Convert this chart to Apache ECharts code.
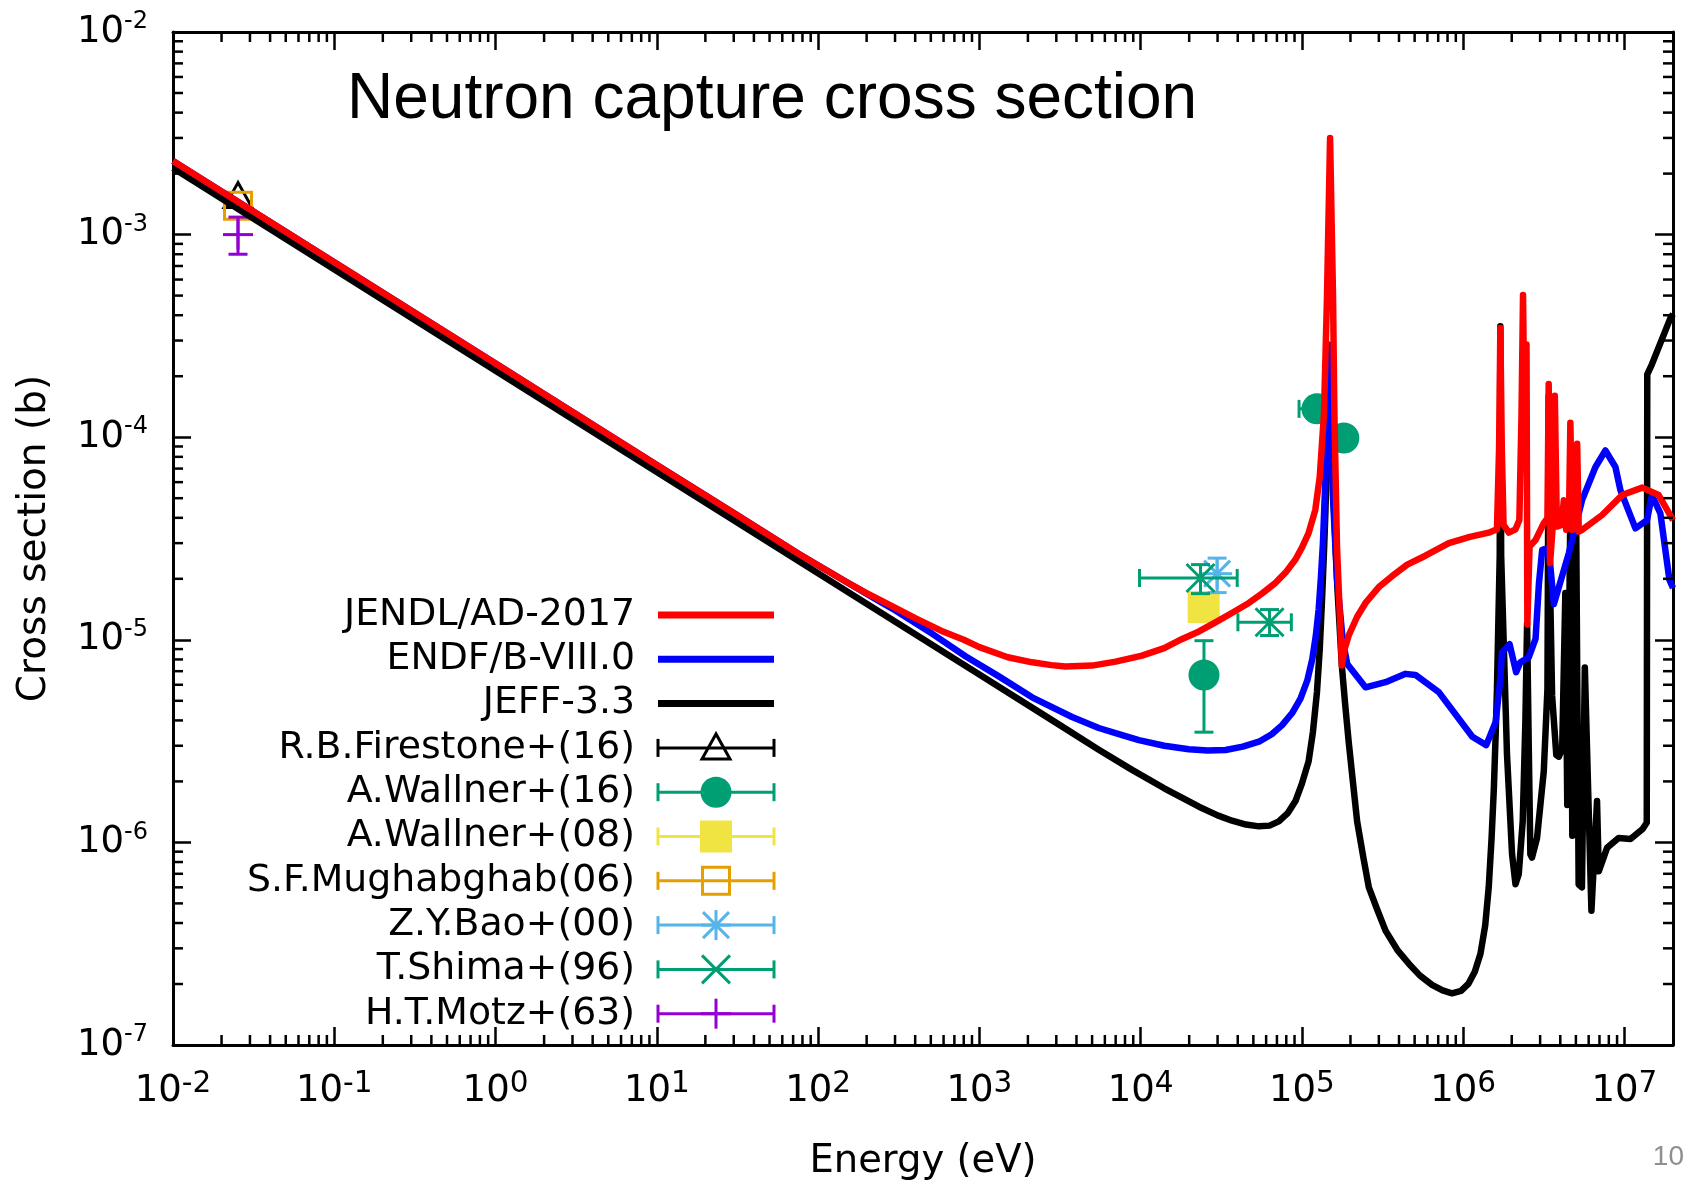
<!DOCTYPE html>
<html>
<head>
<meta charset="utf-8">
<title>Neutron capture cross section</title>
<script src="https://cdn.jsdelivr.net/npm/echarts@6/dist/echarts.min.js"></script>
<style>
  html, body { margin: 0; padding: 0; background: #ffffff; }
  #chart { width: 1690px; height: 1186px; }
</style>
</head>
<body>
<div id="chart"></div>
<script>
// ---------------------------------------------------------------
// Evaluated capture cross sections: [energy (eV), sigma (b)]
// ---------------------------------------------------------------
const jendlAD2017 = [
  [0.01, 2.31e-3], [0.1, 7.3e-4], [1, 2.31e-4], [10, 7.3e-5], [30, 4.22e-5],
  [76, 2.65e-5], [110, 2.23e-5], [150, 1.93e-5], [197, 1.71e-5], [250, 1.55e-5],
  [400, 1.28e-5], [600, 1.095e-5], [800, 1.0e-5], [1000, 9.2e-6], [1500, 8.2e-6],
  [2123, 7.74e-6], [2800, 7.5e-6], [3420, 7.39e-6], [5000, 7.46e-6], [7000, 7.8e-6],
  [1.02e4, 8.35e-6], [1.4e4, 9.1e-6], [1.81e4, 1.01e-5], [2.3e4, 1.1e-5], [2.91e4, 1.22e-5],
  [3.7e4, 1.36e-5], [4.69e4, 1.52e-5], [5.7e4, 1.7e-5], [6.86e4, 1.91e-5], [8.0e4, 2.17e-5],
  [9.12e4, 2.49e-5], [1.0e5, 2.85e-5], [1.10e5, 3.36e-5], [1.21e5, 4.37e-5], [1.29e5, 6.37e-5],
  [1.37e5, 1.30e-4], [1.43e5, 4.85e-4], [1.495e5, 3.0e-3], [1.56e5, 4.85e-4], [1.59e5, 1.31e-4],
  [1.65e5, 2.89e-5], [1.77e5, 7.46e-6], [1.84e5, 9.0e-6], [1.95e5, 1.05e-5], [2.2e5, 1.3e-5],
  [2.48e5, 1.52e-5], [3.0e5, 1.82e-5], [3.62e5, 2.06e-5], [4.5e5, 2.35e-5], [5.83e5, 2.6e-5],
  [8.15e5, 3.0e-5], [1.1e6, 3.22e-5], [1.44e6, 3.38e-5], [1.62e6, 3.51e-5], [1.67e6, 8.93e-5],
  [1.70e6, 3.46e-4], [1.735e6, 8.93e-5], [1.78e6, 3.69e-5], [1.92e6, 3.38e-5], [2.11e6, 3.51e-5],
  [2.23e6, 3.90e-5], [2.30e6, 1.30e-4], [2.35e6, 5.04e-4], [2.41e6, 8.93e-5], [2.47e6, 2.87e-4],
  [2.50e6, 1.19e-5], [2.58e6, 2.89e-5], [2.81e6, 3.11e-5], [3.16e6, 3.76e-5], [3.33e6, 3.98e-5],
  [3.39e6, 1.83e-4], [3.46e6, 2.39e-5], [3.59e6, 3.62e-5], [3.70e6, 1.60e-4], [3.81e6, 3.62e-5],
  [4.07e6, 3.69e-5], [4.21e6, 4.89e-5], [4.35e6, 3.49e-5], [4.52e6, 3.62e-5], [4.62e6, 1.18e-4],
  [4.74e6, 3.49e-5], [4.97e6, 3.55e-5], [5.09e6, 9.27e-5], [5.21e6, 3.42e-5], [5.46e6, 3.49e-5],
  [7.27e6, 4.13e-5], [9.67e6, 5.18e-5], [1.29e7, 5.64e-5], [1.63e7, 5.18e-5], [2.0e7, 3.9e-5]
];

const endfB8 = [
  [0.01, 2.31e-3], [1, 2.31e-4], [10, 7.3e-5], [30, 4.22e-5], [76, 2.65e-5],
  [110, 2.23e-5], [150, 1.93e-5], [197, 1.70e-5], [250, 1.52e-5], [300, 1.40e-5],
  [511, 1.07e-5], [820, 8.3e-6], [1321, 6.6e-6], [2123, 5.2e-6], [3758, 4.16e-6],
  [5500, 3.67e-6], [7500, 3.4e-6], [9750, 3.20e-6], [1.4e4, 3.0e-6], [1.99e4, 2.88e-6],
  [2.6e4, 2.84e-6], [3.36e4, 2.86e-6], [4.3e4, 2.97e-6], [5.41e4, 3.14e-6], [6.5e4, 3.42e-6],
  [7.54e4, 3.79e-6], [8.7e4, 4.35e-6], [9.80e4, 5.12e-6], [1.08e5, 6.3e-6], [1.16e5, 8.04e-6],
  [1.22e5, 1.05e-5], [1.27e5, 1.41e-5], [1.31e5, 2.0e-5], [1.35e5, 3.0e-5], [1.40e5, 6.37e-5],
  [1.44e5, 1.25e-4], [1.47e5, 2.86e-4], [1.51e5, 1.2e-4], [1.55e5, 5.5e-5], [1.65e5, 2.0e-5],
  [1.79e5, 1.0e-5], [1.91e5, 7.6e-6], [2.48e5, 5.83e-6], [3.30e5, 6.18e-6], [4.39e5, 6.79e-6],
  [5.06e5, 6.71e-6], [7.06e5, 5.52e-6], [1.14e6, 3.32e-6], [1.39e6, 3.02e-6], [1.59e6, 3.93e-6],
  [1.70e6, 6.41e-6], [1.74e6, 8.67e-6], [1.94e6, 9.52e-6], [2.13e6, 6.92e-6], [2.26e6, 7.75e-6],
  [2.55e6, 8.19e-6], [2.81e6, 1.01e-5], [2.95e6, 1.9e-5], [3.09e6, 2.78e-5], [3.39e6, 2.84e-5],
  [3.65e6, 1.50e-5], [4.52e6, 2.68e-5], [5.46e6, 4.89e-5], [6.61e6, 7.13e-5], [7.62e6, 8.60e-5],
  [8.79e6, 7.13e-5], [9.44e6, 5.48e-5], [1.17e7, 3.55e-5], [1.38e7, 3.90e-5], [1.48e7, 5.18e-5],
  [1.67e7, 4.21e-5], [1.90e7, 1.98e-5], [2.0e7, 1.8e-5]
];

const jeff33 = [
  [0.01, 2.13e-3], [1, 2.13e-4], [100, 2.13e-5], [1000, 6.74e-6], [3000, 3.89e-6],
  [5500, 2.87e-6], [8850, 2.28e-6], [1.4e4, 1.85e-6], [2.3e4, 1.50e-6], [3.0e4, 1.36e-6],
  [3.69e4, 1.28e-6], [4.5e4, 1.225e-6], [5.41e4, 1.20e-6], [6.3e4, 1.21e-6], [7.19e4, 1.27e-6],
  [8.2e4, 1.40e-6], [9.12e4, 1.60e-6], [1.0e5, 1.95e-6], [1.10e5, 2.51e-6], [1.17e5, 3.5e-6],
  [1.24e5, 5.52e-6], [1.29e5, 9.0e-6], [1.33e5, 1.52e-5], [1.37e5, 2.7e-5], [1.40e5, 4.37e-5],
  [1.45e5, 1.3e-4], [1.48e5, 2.6e-4], [1.52e5, 1.3e-4], [1.58e5, 4.5e-5], [1.66e5, 1.8e-5],
  [1.77e5, 7.4e-6], [1.85e5, 4.9e-6], [1.95e5, 3.14e-6], [2.07e5, 2.0e-6], [2.20e5, 1.27e-6],
  [2.40e5, 8.5e-7], [2.60e5, 6.0e-7], [2.95e5, 4.6e-7], [3.30e5, 3.67e-7], [3.90e5, 2.95e-7],
  [4.60e5, 2.52e-7], [5.40e5, 2.2e-7], [6.41e5, 1.98e-7], [7.45e5, 1.86e-7], [8.53e5, 1.80e-7],
  [9.70e5, 1.85e-7], [1.08e6, 2.01e-7], [1.18e6, 2.3e-7], [1.28e6, 2.82e-7], [1.37e6, 3.9e-7],
  [1.44e6, 6.0e-7], [1.50e6, 1.05e-6], [1.55e6, 1.85e-6], [1.59e6, 3.4e-6], [1.62e6, 5.73e-6],
  [1.685e6, 2.6e-5], [1.70e6, 3.53e-4], [1.72e6, 2.6e-5], [1.87e6, 2.70e-6], [2.01e6, 8.73e-7],
  [2.11e6, 6.22e-7], [2.21e6, 6.97e-7], [2.34e6, 1.27e-6], [2.43e6, 3.93e-6], [2.49e6, 1.2e-5],
  [2.55e6, 3.0e-6], [2.61e6, 8.73e-7], [2.67e6, 8.41e-7], [2.87e6, 1.05e-6], [3.16e6, 2.24e-6],
  [3.33e6, 5.7e-6], [3.39e6, 1.6e-4], [3.44e6, 2.3e-5], [3.56e6, 5.3e-6], [3.78e6, 2.7e-6],
  [3.92e6, 2.65e-6], [4.11e6, 2.9e-6], [4.30e6, 1.7e-5], [4.42e6, 1.53e-6], [4.62e6, 4.5e-5],
  [4.75e6, 1.08e-6], [5.00e6, 6.0e-5], [5.20e6, 6.2e-7], [5.45e6, 6.0e-7], [5.68e6, 7.3e-6],
  [6.24e6, 4.6e-7], [6.76e6, 1.6e-6], [6.93e6, 7.2e-7], [7.80e6, 9.4e-7], [9.20e6, 1.05e-6],
  [1.09e7, 1.04e-6], [1.29e7, 1.16e-6], [1.375e7, 1.25e-6], [1.385e7, 2.04e-4], [1.48e7, 2.29e-4],
  [1.93e7, 3.88e-4], [2.0e7, 4.05e-4]
];

// ---------------------------------------------------------------
// Measurements: [E, sigma, E low, E high, sigma low, sigma high]
// (low == high means no error bar in that direction)
// ---------------------------------------------------------------
const firestone16 = [
  [0.0253, 1.54e-3, 0.0253, 0.0253, 1.54e-3, 1.54e-3]
];
const wallner16 = [
  [2.47e4, 6.7e-6, 2.47e4, 2.47e4, 3.5e-6, 9.9e-6],
  [1.24e5, 1.38e-4, 9.6e4, 1.52e5, 1.38e-4, 1.38e-4],
  [1.82e5, 9.9e-5, 1.82e5, 1.82e5, 9.9e-5, 9.9e-5]
];
const wallner08 = [
  [2.46e4, 1.45e-5, 2.46e4, 2.46e4, 1.45e-5, 1.45e-5]
];
const mughabghab06 = [
  [0.0253, 1.39e-3, 0.0253, 0.0253, 1.39e-3, 1.39e-3]
];
const bao00 = [
  [2.98e4, 2.12e-5, 2.98e4, 2.98e4, 1.71e-5, 2.53e-5]
];
const shima96 = [
  [2.35e4, 2.02e-5, 9.84e3, 3.97e4, 1.69e-5, 2.35e-5],
  [6.3e4, 1.22e-5, 4.01e4, 8.6e4, 1.05e-5, 1.41e-5]
];
const motz63 = [
  [0.0253, 1.0e-3, 0.0253, 0.0253, 8.0e-4, 1.22e-3]
];

// Axis ranges and decade tick labels
const xRange = [1e-2, 2e7];
const yRange = [1e-7, 1e-2];
const xDecades = [-2, -1, 0, 1, 2, 3, 4, 5, 6, 7];
const yDecades = [-7, -6, -5, -4, -3, -2];
const minorSteps = [2, 3, 4, 5, 6, 7, 8, 9];

// ---------------------------------------------------------------
const FONT = "'DejaVu Sans'";

const evaluations = [
  { name: 'JENDL/AD-2017', data: jendlAD2017, color: '#ff0000', z: 5 },
  { name: 'ENDF/B-VIII.0', data: endfB8, color: '#0000ff', z: 4 },
  { name: 'JEFF-3.3', data: jeff33, color: '#000000', z: 3 }
];

const measurementSets = [
  { name: 'R.B.Firestone+(16)', data: firestone16, color: '#000000', marker: 'triangle' },
  { name: 'A.Wallner+(16)', data: wallner16, color: '#009e73', marker: 'circle' },
  { name: 'A.Wallner+(08)', data: wallner08, color: '#f0e442', marker: 'square' },
  { name: 'S.F.Mughabghab(06)', data: mughabghab06, color: '#e69f00', marker: 'openSquare' },
  { name: 'Z.Y.Bao+(00)', data: bao00, color: '#56b4e9', marker: 'asterisk' },
  { name: 'T.Shima+(96)', data: shima96, color: '#009e73', marker: 'cross' },
  { name: 'H.T.Motz+(63)', data: motz63, color: '#9400d3', marker: 'plus' }
];

function decadeLabel(value, decades) {
  const e = Math.log10(value);
  const n = Math.round(e);
  if (Math.abs(e - n) > 1e-6 || decades.indexOf(n) < 0) return '';
  return '{b|10}{s|' + n + '}';
}

function minorValues(decades, upper) {
  const out = [];
  decades.forEach(function (d) {
    minorSteps.forEach(function (m) {
      const v = m * Math.pow(10, d);
      if (v < upper) out.push(v);
    });
  });
  return out;
}
const xMinor = minorValues(xDecades, xRange[1]);
const yMinor = minorValues(yDecades, yRange[1]);

function seg(x1, y1, x2, y2, color, w) {
  return { type: 'line', shape: { x1: x1, y1: y1, x2: x2, y2: y2 },
           style: { stroke: color, lineWidth: w || 3, fill: 'none' } };
}

// Point symbols in the gnuplot style
function markerShapes(kind, x, y, color) {
  switch (kind) {
    case 'triangle':
      return [{ type: 'polygon',
        shape: { points: [[x, y - 14], [x - 14, y + 11], [x + 14, y + 11]] },
        style: { fill: 'none', stroke: color, lineWidth: 3 } }];
    case 'circle':
      return [{ type: 'circle', shape: { cx: x, cy: y, r: 15.5 }, style: { fill: color } }];
    case 'square':
      return [{ type: 'rect', shape: { x: x - 16, y: y - 16, width: 32, height: 32 }, style: { fill: color } }];
    case 'openSquare':
      return [{ type: 'rect', shape: { x: x - 13.5, y: y - 13.5, width: 27, height: 27 },
        style: { fill: 'none', stroke: color, lineWidth: 3 } }];
    case 'asterisk':
      return [seg(x - 15, y, x + 15, y, color), seg(x, y - 15, x, y + 15, color),
              seg(x - 13, y - 13, x + 13, y + 13, color), seg(x - 13, y + 13, x + 13, y - 13, color)];
    case 'cross':
      return [seg(x - 14, y - 14, x + 14, y + 14, color), seg(x - 14, y + 14, x + 14, y - 14, color)];
    case 'plus':
      return [seg(x - 15, y, x + 15, y, color), seg(x, y - 15, x, y + 15, color)];
  }
  return [];
}

function measurementRenderer(color, marker) {
  return function (params, api) {
    const E = api.value(0), s = api.value(1);
    const eLo = api.value(2), eHi = api.value(3);
    const sLo = api.value(4), sHi = api.value(5);
    const c = api.coord([E, s]);
    const kids = [];
    if (eHi > eLo) {
      const a = api.coord([eLo, s]), b = api.coord([eHi, s]);
      kids.push(seg(a[0], c[1], b[0], c[1], color));
      kids.push(seg(a[0], c[1] - 9, a[0], c[1] + 9, color));
      kids.push(seg(b[0], c[1] - 9, b[0], c[1] + 9, color));
    }
    if (sHi > sLo) {
      const a = api.coord([E, sLo]), b = api.coord([E, sHi]);
      kids.push(seg(c[0], a[1], c[0], b[1], color));
      kids.push(seg(c[0] - 9.5, a[1], c[0] + 9.5, a[1], color));
      kids.push(seg(c[0] - 9.5, b[1], c[0] + 9.5, b[1], color));
    }
    markerShapes(marker, c[0], c[1], color).forEach(function (k) { kids.push(k); });
    return { type: 'group', children: kids };
  };
}

function xAxisDef(position, labelled) {
  const ax = {
    type: 'log', logBase: 10, min: xRange[0], max: xRange[1],
    interval: 1, splitNumber: 10, position: position, gridIndex: 0,
    axisLine: { show: true, onZero: false, lineStyle: { color: '#000', width: 3 } },
    axisTick: { show: true, inside: true, length: 18, lineStyle: { color: '#000', width: 2.5 } },
    splitLine: { show: false },
    minorTick: { show: false },
    axisLabel: { show: false }
  };
  if (labelled) {
    ax.axisLabel = {
      show: true, margin: 24,
      formatter: function (v) { return decadeLabel(v, xDecades); },
      rich: {
        b: { fontFamily: FONT, fontSize: 37, lineHeight: 44, color: '#000' },
        s: { fontFamily: FONT, fontSize: 29.5, lineHeight: 22, verticalAlign: 'top', color: '#000' }
      }
    };
    ax.name = 'Energy (eV)';
    ax.nameLocation = 'middle';
    ax.nameGap = 97;
    ax.nameTextStyle = { fontFamily: FONT, fontSize: 38.5, color: '#000' };
  }
  return ax;
}

function yAxisDef(position, labelled) {
  const ax = {
    type: 'log', logBase: 10, min: yRange[0], max: yRange[1],
    interval: 1, splitNumber: 10, position: position, gridIndex: 0,
    axisLine: { show: true, onZero: false, lineStyle: { color: '#000', width: 3 } },
    axisTick: { show: true, inside: true, length: 18, lineStyle: { color: '#000', width: 2.5 } },
    splitLine: { show: false },
    minorTick: { show: false },
    axisLabel: { show: false }
  };
  if (labelled) {
    ax.axisLabel = {
      show: true, margin: 25,
      formatter: function (v) { return decadeLabel(v, yDecades); },
      rich: {
        b: { fontFamily: FONT, fontSize: 37, lineHeight: 44, color: '#000' },
        s: { fontFamily: FONT, fontSize: 24, lineHeight: 28, verticalAlign: 'top', color: '#000' }
      }
    };
    ax.name = 'Cross section (b)';
    ax.nameLocation = 'middle';
    ax.nameGap = 119;
    ax.nameTextStyle = { fontFamily: FONT, fontSize: 39, color: '#000' };
  }
  return ax;
}

// Minor ticks at 2..9 x 10^n on all four sides
const minorTickSeries = [
  {
    type: 'custom', silent: true, z: 6,
    data: xMinor.map(function (v) { return [v, yRange[0]]; }),
    renderItem: function (params, api) {
      const x = api.coord([api.value(0), yRange[0]])[0];
      const cs = params.coordSys;
      return { type: 'group', children: [
        seg(x, cs.y + cs.height, x, cs.y + cs.height - 10, '#000', 2.5),
        seg(x, cs.y, x, cs.y + 10, '#000', 2.5)
      ] };
    }
  },
  {
    type: 'custom', silent: true, z: 6,
    data: yMinor.map(function (v) { return [xRange[0], v]; }),
    renderItem: function (params, api) {
      const y = api.coord([xRange[0], api.value(1)])[1];
      const cs = params.coordSys;
      return { type: 'group', children: [
        seg(cs.x, y, cs.x + 10, y, '#000', 2.5),
        seg(cs.x + cs.width, y, cs.x + cs.width - 10, y, '#000', 2.5)
      ] };
    }
  }
];

const measurementSeries = measurementSets.map(function (m) {
  return {
    type: 'custom', name: m.name, silent: true, z: 2,
    xAxisIndex: 0, yAxisIndex: 0,
    encode: { x: 0, y: 1 },
    data: m.data,
    renderItem: measurementRenderer(m.color, m.marker)
  };
});

const lineSeries = evaluations.slice().reverse().map(function (ev) {
  return {
    type: 'line', name: ev.name, data: ev.data, z: ev.z,
    xAxisIndex: 0, yAxisIndex: 0,
    showSymbol: false, symbol: 'none', silent: true,
    lineStyle: { color: ev.color, width: 6.5, join: 'round' }
  };
});

// Key: text right-aligned, sample to its right
const keyRows = evaluations.map(function (ev) { return { name: ev.name, color: ev.color, marker: null }; })
  .concat(measurementSets.map(function (m) { return { name: m.name, color: m.color, marker: m.marker }; }));

const keyGraphics = [];
keyRows.forEach(function (row, i) {
  const y = 615 + 44.3 * i;
  keyGraphics.push({
    type: 'text', silent: true, z: 20,
    style: { text: row.name, x: 635, y: y, font: '37.8px ' + FONT, fill: '#000',
             align: 'right', verticalAlign: 'middle', textAlign: 'right', textVerticalAlign: 'middle' }
  });
  if (!row.marker) {
    const ln = seg(658, y, 774, y, row.color, 7);
    ln.z = 20; ln.silent = true;
    keyGraphics.push(ln);
  } else {
    const parts = [seg(658, y, 774, y, row.color), seg(658, y - 9, 658, y + 9, row.color),
                   seg(774, y - 9, 774, y + 9, row.color)].concat(markerShapes(row.marker, 716, y, row.color));
    parts.forEach(function (p) { p.z = 20; p.silent = true; keyGraphics.push(p); });
  }
});

keyGraphics.push({
  type: 'text', silent: true, z: 20,
  style: { text: '10', x: 1684, y: 1157, font: "28px 'Liberation Sans'", fill: '#8f8f8f',
           align: 'right', verticalAlign: 'middle', textAlign: 'right', textVerticalAlign: 'middle' }
});

const chart = echarts.init(document.getElementById('chart'), null, { renderer: 'canvas' });
chart.setOption({
  animation: false,
  backgroundColor: '#ffffff',
  textStyle: { fontFamily: FONT },
  title: {
    text: 'Neutron capture cross section',
    left: 347, top: 68, padding: 0,
    textStyle: { fontFamily: "'Liberation Sans'", fontSize: 64, fontWeight: 'normal', color: '#000', lineHeight: 64 }
  },
  grid: { left: 173, right: 17, top: 32, bottom: 134, containLabel: false },
  xAxis: [xAxisDef('bottom', true), xAxisDef('top', false)],
  yAxis: [yAxisDef('left', true), yAxisDef('right', false)],
  series: measurementSeries.concat(lineSeries).concat(minorTickSeries),
  graphic: keyGraphics
});
</script>
</body>
</html>
